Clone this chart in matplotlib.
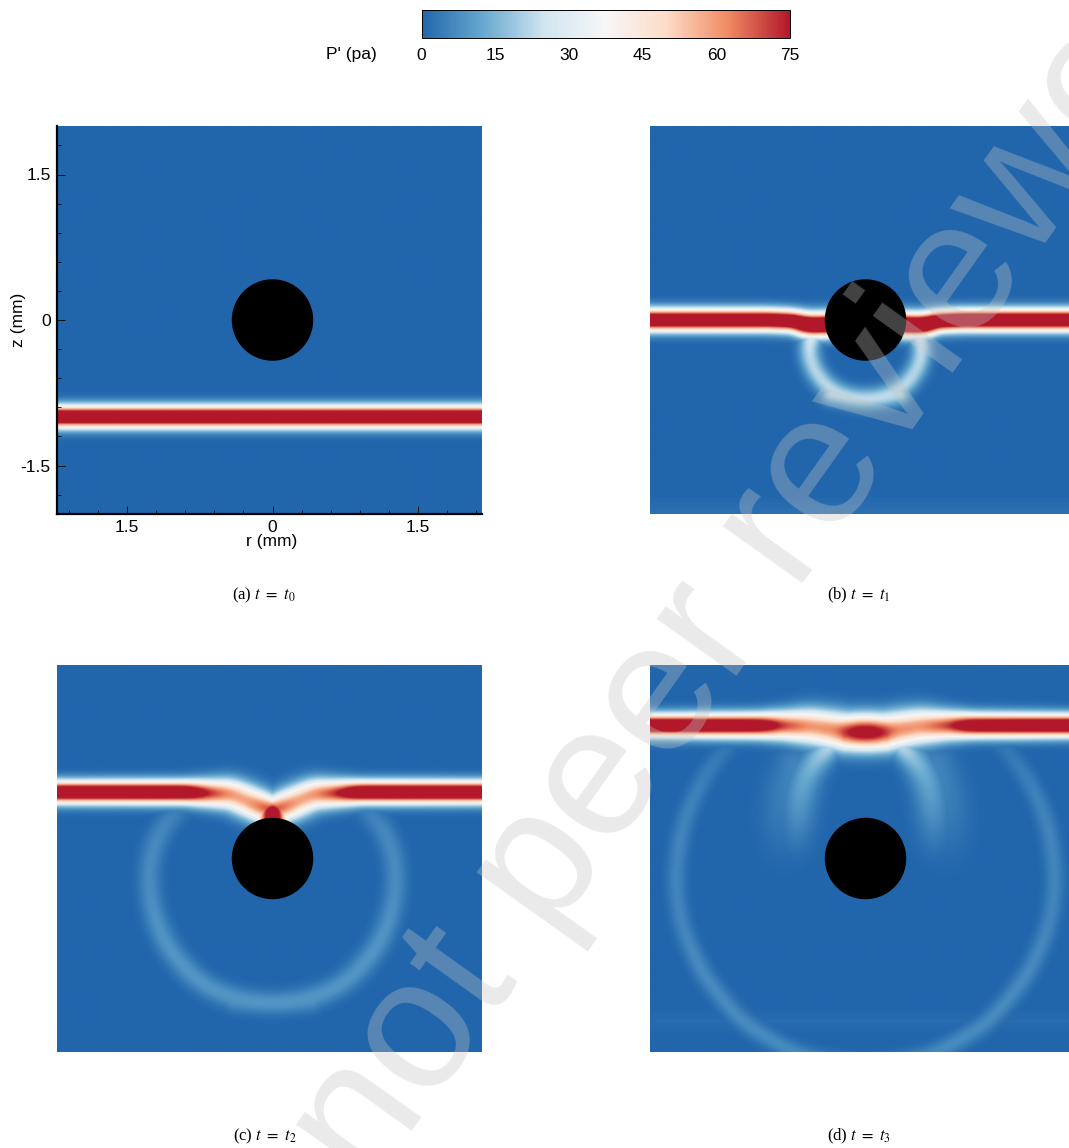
import matplotlib
matplotlib.use('Agg')
import matplotlib.pyplot as plt
import numpy as np
from matplotlib.colors import LinearSegmentedColormap
from matplotlib.patches import Circle
from matplotlib.ticker import MultipleLocator, FixedLocator

plt.rcParams['font.family'] = ['Liberation Sans', 'DejaVu Sans']
plt.rcParams['mathtext.fontset'] = 'stix'

W, H = 1069, 1148
R_LEFT, R_RIGHT = -2.222, 2.16
Z_MAX = 2.0
SPHERE = 0.42

cmap_colors = ['#2166ac', '#67a9cf', '#d1e5f0', '#f7f7f7', '#fddbc7', '#ef8a62', '#b2182b']
cbar_ticks = [0, 15, 30, 45, 60, 75]

# Wave crests, mirrored about r = 0 when painted
# each row: r (mm), z (mm), P' peak (pa), crest half width (mm)
a_front = ([0, 2.3], [-1.0, -1.0], [100, 100], [0.078, 0.078])

b_front = ([0.3, 0.45, 0.6, 0.75, 1.0, 2.3],
           [-0.04, -0.05, -0.05, -0.01, 0, 0],
           [105, 105, 105, 100, 100, 100],
           [0.085, 0.085, 0.085, 0.078, 0.078, 0.078])
b_ring = ([-0.35, 0, 0.35, 0.56, 0.62, 0.57, 0.47],
          [-0.76, -0.84, -0.76, -0.5, -0.27, -0.13, -0.04],
          [23, 23, 23, 21, 22, 27, 32],
          [0.075, 0.075, 0.075, 0.075, 0.075, 0.075, 0.075])
b_floor = ([0, 2.3], [-2.0, -2.0], [2, 2], [0.1, 0.1])

c_front = ([0, 0.12, 0.26, 0.43, 0.65, 0.9, 2.3],
           [0.50, 0.53, 0.59, 0.66, 0.67, 0.68, 0.68],
           [70, 65, 58, 60, 72, 98, 100],
           [0.09, 0.11, 0.115, 0.11, 0.095, 0.08, 0.078])
c_stem = ([0, 0], [0.46, 0.38], [90, 95], [0.11, 0.11])
c_ring = ([-0.4, 0, 0.4, 0.77, 1.11, 1.24, 1.29, 1.24, 1.06, 0.85],
          [-1.46, -1.51, -1.46, -1.29, -0.90, -0.55, -0.22, 0.13, 0.44, 0.6],
          [9, 9, 9, 9, 9, 8, 7, 7, 6, 3],
          [0.085, 0.085, 0.085, 0.085, 0.085, 0.085, 0.085, 0.085, 0.085, 0.085])

d_front = ([-0.2, 0, 0.1, 0.2, 0.3, 0.56, 0.85, 1.1, 2.3],
           [1.30, 1.30, 1.30, 1.30, 1.32, 1.36, 1.37, 1.37, 1.37],
           [72, 84, 80, 72, 62, 60, 70, 92, 100],
           [0.125, 0.125, 0.125, 0.125, 0.13, 0.125, 0.1, 0.085, 0.078])
d_inner = ([0.38, 0.52, 0.655, 0.70, 0.72, 0.72],
           [1.15, 1.02, 0.81, 0.47, 0.2, 0.05],
           [22, 15, 12, 9, 3, 1],
           [0.09, 0.1, 0.12, 0.13, 0.13, 0.13])
d_haze = ([0.72, 0.85, 0.88, 0.85],
          [0.95, 0.6, 0.3, 0.05],
          [6, 5, 3, 1],
          [0.15, 0.16, 0.16, 0.16])
d_ring = ([-0.68, 0, 0.68, 1.28, 1.7, 1.92, 1.97, 1.9, 1.7, 1.4, 1.15],
          [-2.05, -2.17, -2.05, -1.7, -1.18, -0.65, -0.2, 0.32, 0.8, 1.2, 1.4],
          [7, 7, 7, 7, 7, 6, 6, 6, 5, 3, 1],
          [0.07, 0.07, 0.07, 0.07, 0.07, 0.07, 0.07, 0.07, 0.07, 0.07, 0.07])
d_floor = ([0, 2.3], [-1.68, -1.68], [1.2, 1.2], [0.08, 0.08])

r_ticks = [-1.5, 0, 1.5]
r_ticklabels = ['1.5', '0', '1.5']
z_ticks = [-1.5, 0, 1.5]
z_ticklabels = ['-1.5', '0', '1.5']

captions = [r'(a) $t\ =\ t_0$', r'(b) $t\ =\ t_1$', r'(c) $t\ =\ t_2$', r'(d) $t\ =\ t_3$']

cmap = LinearSegmentedColormap.from_list('rdbu7', cmap_colors)


def smooth(values, n, passes):
    kernel = np.ones(n) / n
    for _ in range(passes):
        padded = np.pad(values, n // 2, mode='reflect', reflect_type='odd')
        values = np.convolve(padded, kernel, 'valid')
    return values


def paint_curve(field, rr, zz, curve, n, passes):
    # walk along the crest and keep the highest value seen at each grid point
    cr, cz, camp, csig = curve
    s = np.r_[0, np.cumsum(np.hypot(np.diff(cr), np.diff(cz)))]
    t = np.arange(0, s[-1] + 0.012, 0.012)
    pr = smooth(np.interp(t, s, cr), n, passes)
    pz = smooth(np.interp(t, s, cz), n, passes)
    pa = smooth(np.interp(t, s, camp), n, passes)
    ps = smooth(np.interp(t, s, csig), n, passes)
    for i in range(len(t)):
        d2 = (rr - np.abs(pr[i])) ** 2 + (zz - pz[i]) ** 2
        field = np.maximum(field, pa[i] * np.exp(-d2 / (2 * ps[i] ** 2)))
    return field


def add_panel(left, top, fronts, rings=()):
    r = np.linspace(R_LEFT, R_RIGHT, 430)
    z = np.linspace(-Z_MAX, Z_MAX, 392)
    rr, zz = np.meshgrid(np.abs(r), z)
    field = np.zeros_like(rr)
    for curve in rings:
        field = paint_curve(field, rr, zz, curve, 31, 2)
    for curve in fronts:
        field = paint_curve(field, rr, zz, curve, 13, 1)

    ax = fig.add_axes([left / W, 1 - (top + 388) / H, 425 / W, 388 / H])
    ax.imshow(field, origin='lower', extent=[R_LEFT, R_RIGHT, -Z_MAX, Z_MAX],
              cmap=cmap, vmin=0, vmax=75, aspect='auto', interpolation='bilinear')
    ax.add_patch(Circle((0, 0), SPHERE, color='black', lw=0))
    ax.set_xlim(R_LEFT, R_RIGHT)
    ax.set_ylim(-Z_MAX, Z_MAX)
    return ax


fig = plt.figure(figsize=(W / 100, H / 100), dpi=100)

ax_a = add_panel(57, 126, [a_front])
ax_b = add_panel(650, 126, [b_floor, b_front], [b_ring])
ax_c = add_panel(57, 664.5, [c_front, c_stem], [c_ring])
ax_d = add_panel(650, 664.5, [d_floor, d_front], [d_ring, d_inner, d_haze])

for ax in [ax_b, ax_c, ax_d]:
    ax.axis('off')

for side in ['top', 'right']:
    ax_a.spines[side].set_visible(False)
for side in ['left', 'bottom']:
    ax_a.spines[side].set_linewidth(1.6)
ax_a.xaxis.set_major_locator(FixedLocator(r_ticks))
ax_a.yaxis.set_major_locator(FixedLocator(z_ticks))
ax_a.xaxis.set_minor_locator(MultipleLocator(0.3))
ax_a.yaxis.set_minor_locator(MultipleLocator(0.3))
ax_a.set_xticklabels(r_ticklabels)
ax_a.set_yticklabels(z_ticklabels)
ax_a.tick_params(which='major', direction='in', length=5.5, width=0.6, labelsize=12.5, pad=4.5)
ax_a.tick_params(which='minor', direction='in', length=3, width=0.6)
fig.text(272 / W, 1 - 541 / H, 'r (mm)', fontsize=12.5, ha='center', va='center')
fig.text(18 / W, 1 - 320 / H, 'z (mm)', rotation=90, fontsize=12.5, ha='center', va='center')

caption_x = [264, 859, 265, 859]
caption_y = [595, 595, 1136, 1136]
for text, cx, cy in zip(captions, caption_x, caption_y):
    fig.text(cx / W, 1 - cy / H, text, family='Liberation Serif', fontsize=12,
             ha='center', va='center')

# colour bar along the top
cax = fig.add_axes([421.5 / W, 1 - 37.5 / H, 368.5 / W, 27.5 / H])
sm = plt.cm.ScalarMappable(cmap=cmap, norm=plt.Normalize(0, 75))
cb = fig.colorbar(sm, cax=cax, orientation='horizontal', ticks=cbar_ticks)
cb.ax.tick_params(length=0, labelsize=12.5, pad=7.5)
cb.outline.set_linewidth(0.7)
fig.text(351 / W, 1 - 55 / H, "P' (pa)", fontsize=12.5, ha='center', va='center')

# watermark sits over everything
fig.text(369 / W, 1 - 1191 / H, 'not peer reviewed', fontsize=134, color='#c4c4c4', alpha=0.345,
         rotation=54.5, rotation_mode='anchor', ha='left', va='baseline', zorder=20)

fig.savefig('out.png', dpi=100)
plt.close(fig)
